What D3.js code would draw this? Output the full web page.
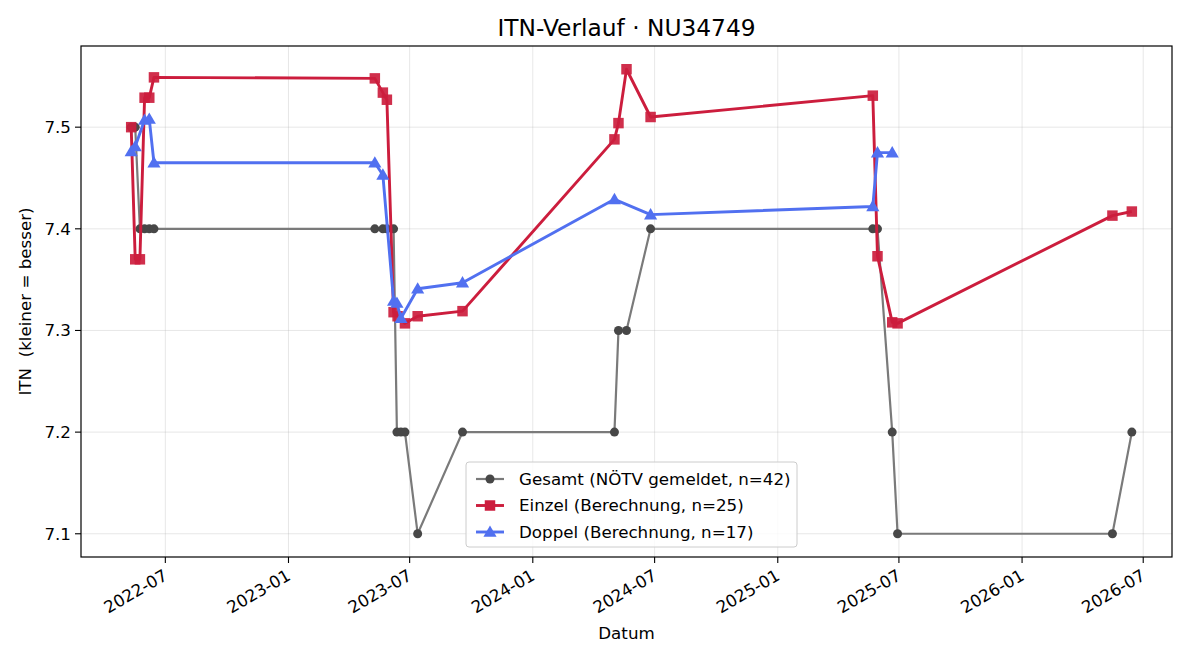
<!DOCTYPE html>
<html>
<head>
<meta charset="utf-8">
<script src="https://cdn.jsdelivr.net/npm/d3@7"></script>
<style>
  body { margin: 0; background: #fff; }
  svg { font-family: "DejaVu Sans", sans-serif; }
</style>
</head>
<body>
<div id="chart"></div>
<script>
// values
const gesamtDates = ["2022-05-11","2022-05-17","2022-05-24","2022-05-31","2022-06-07","2022-06-14",
  "2023-05-10","2023-05-22","2023-05-28","2023-06-07","2023-06-12","2023-06-18","2023-06-24","2023-07-13","2023-09-18",
  "2024-05-02","2024-05-08","2024-05-20","2024-06-25",
  "2025-05-23","2025-05-30","2025-06-21","2025-06-29",
  "2026-05-16","2026-06-14"];
const gesamtValues = [7.5,7.5,7.4,7.4,7.4,7.4,
  7.4,7.4,7.4,7.4,7.2,7.2,7.2,7.1,7.2,
  7.2,7.3,7.3,7.4,
  7.4,7.4,7.2,7.1,
  7.1,7.2];

const einzelDates = ["2022-05-11","2022-05-17","2022-05-24","2022-05-31","2022-06-07","2022-06-14",
  "2023-05-10","2023-05-22","2023-05-28","2023-06-07","2023-06-13","2023-06-24","2023-07-13","2023-09-18",
  "2024-05-02","2024-05-08","2024-05-20","2024-06-25",
  "2025-05-23","2025-05-30","2025-06-21","2025-06-29",
  "2026-05-16","2026-06-14"];
const einzelValues = [7.500,7.370,7.370,7.529,7.529,7.549,
  7.548,7.534,7.527,7.318,7.314,7.307,7.314,7.319,
  7.488,7.504,7.557,7.510,
  7.531,7.373,7.308,7.307,
  7.413,7.417];

const doppelDates = ["2022-05-11","2022-05-17","2022-05-31","2022-06-07","2022-06-14",
  "2023-05-10","2023-05-22","2023-06-07","2023-06-12","2023-06-18","2023-07-13","2023-09-18",
  "2024-05-02","2024-06-25",
  "2025-05-23","2025-05-30","2025-06-21"];
const doppelValues = [7.476,7.481,7.507,7.508,7.465,
  7.465,7.453,7.329,7.327,7.312,7.341,7.347,
  7.429,7.414,
  7.422,7.475,7.475];

const legendLabels = ["Gesamt (NÖTV gemeldet, n=42)", "Einzel (Berechnung, n=25)", "Doppel (Berechnung, n=17)"];
const yTicks = [7.1, 7.2, 7.3, 7.4, 7.5];

const parse = d3.timeParse("%Y-%m-%d");
const zip = (ds, vs) => ds.map((d, i) => ({ date: parse(d), value: vs[i] }));
const gesamt = zip(gesamtDates, gesamtValues);
const einzel = zip(einzelDates, einzelValues);
const doppel = zip(doppelDates, doppelValues);

const W = 1200, H = 660;
const m = { left: 81, right: 28, top: 46, bottom: 103 };
const fs = 16.7;

const svg = d3.select("#chart").append("svg").attr("width", W).attr("height", H);

const x = d3.scaleTime()
  .domain([parse("2022-02-25"), parse("2026-08-13")])
  .range([m.left, W - m.right]);

const allVals = gesamtValues.concat(einzelValues, doppelValues);
const [ymin, ymax] = d3.extent(allVals);
const pad = (ymax - ymin) * 0.05;
const y = d3.scaleLinear().domain([ymin - pad, ymax + pad]).range([H - m.bottom, m.top]);

const xTicks = d3.timeMonth.every(6).range(parse("2022-07-01"), parse("2026-07-02"));

// grid
const grid = svg.append("g").attr("stroke", "#b0b0b0").attr("stroke-opacity", 0.3).attr("stroke-width", 1);
grid.selectAll(".gx").data(xTicks).join("line")
  .attr("x1", d => x(d)).attr("x2", d => x(d)).attr("y1", m.top).attr("y2", H - m.bottom);
grid.selectAll(".gy").data(yTicks).join("line")
  .attr("y1", d => y(d)).attr("y2", d => y(d)).attr("x1", m.left).attr("x2", W - m.right);

const line = d3.line().x(d => x(d.date)).y(d => y(d.value));

// Gesamt
svg.append("path").datum(gesamt).attr("d", line)
  .attr("fill", "none").attr("stroke", "#7a7a7a").attr("stroke-width", 2.2);
svg.append("g").selectAll("circle").data(gesamt).join("circle")
  .attr("cx", d => x(d.date)).attr("cy", d => y(d.value)).attr("r", 4.5)
  .attr("fill", "#474747");

// Einzel
const red = "#cc1d3d";
svg.append("path").datum(einzel).attr("d", line)
  .attr("fill", "none").attr("stroke", red).attr("stroke-width", 2.9).attr("stroke-linejoin", "round");
const sq = d3.symbol().type(d3.symbolSquare).size(110);
svg.append("g").selectAll("path").data(einzel).join("path")
  .attr("d", sq).attr("transform", d => `translate(${x(d.date)},${y(d.value)})`)
  .attr("fill", red).attr("fill-opacity", 0.92);

// Doppel
const blue = "#5170f0";
svg.append("path").datum(doppel).attr("d", line)
  .attr("fill", "none").attr("stroke", blue).attr("stroke-width", 2.9).attr("stroke-linejoin", "round");
const tri = d3.symbol().type(d3.symbolTriangle).size(75);
svg.append("g").selectAll("path").data(doppel).join("path")
  .attr("d", tri).attr("transform", d => `translate(${x(d.date)},${y(d.value) + 1})`)
  .attr("fill", blue);

// axes frame
svg.append("rect").attr("x", m.left).attr("y", m.top)
  .attr("width", W - m.left - m.right).attr("height", H - m.top - m.bottom)
  .attr("fill", "none").attr("stroke", "#000").attr("stroke-width", 1.2);

// y axis
const gy = svg.append("g");
gy.selectAll("line").data(yTicks).join("line")
  .attr("x1", m.left - 6).attr("x2", m.left).attr("y1", d => y(d)).attr("y2", d => y(d))
  .attr("stroke", "#000").attr("stroke-width", 1.1);
gy.selectAll("text").data(yTicks).join("text")
  .attr("x", m.left - 10).attr("y", d => y(d)).attr("dy", "0.35em")
  .attr("text-anchor", "end").attr("font-size", fs).attr("fill", "#000")
  .text(d => d3.format(".1f")(d));

// x axis
const gx = svg.append("g");
gx.selectAll("line").data(xTicks).join("line")
  .attr("x1", d => x(d)).attr("x2", d => x(d)).attr("y1", H - m.bottom).attr("y2", H - m.bottom + 6)
  .attr("stroke", "#000").attr("stroke-width", 1.1);
gx.selectAll("text").data(xTicks).join("text")
  .attr("transform", d => `translate(${x(d) - 3},${H - m.bottom + 11}) rotate(-30)`)
  .attr("dy", "0.75em").attr("text-anchor", "end").attr("font-size", fs).attr("fill", "#000")
  .text(d3.timeFormat("%Y-%m"));

// labels
svg.append("text").attr("x", (m.left + W - m.right) / 2).attr("y", 36)
  .attr("text-anchor", "middle").attr("font-size", 23.3).text("ITN-Verlauf · NU34749");
svg.append("text").attr("x", (m.left + W - m.right) / 2).attr("y", 639)
  .attr("text-anchor", "middle").attr("font-size", fs).text("Datum");
svg.append("text").attr("transform", `translate(31,${(m.top + H - m.bottom) / 2}) rotate(-90)`)
  .attr("text-anchor", "middle").attr("font-size", fs).attr("xml:space", "preserve")
  .text("ITN  (kleiner = besser)");

// legend
const lg = svg.append("g").attr("transform", "translate(466,462)");
lg.append("rect").attr("width", 331).attr("height", 85).attr("rx", 3)
  .attr("fill", "#fff").attr("fill-opacity", 0.8).attr("stroke", "#cccccc");
const legendStyles = [
  { color: "#7a7a7a", mark: "#474747", sym: d3.symbolCircle, size: 64, w: 2.2 },
  { color: red, mark: red, sym: d3.symbolSquare, size: 110, w: 2.9 },
  { color: blue, mark: blue, sym: d3.symbolTriangle, size: 75, w: 2.9 }
];
legendLabels.forEach((lab, i) => {
  const s = legendStyles[i];
  const row = lg.append("g").attr("transform", `translate(0,${17 + i * 26.5})`);
  row.append("line").attr("x1", 10).attr("x2", 38).attr("stroke", s.color).attr("stroke-width", s.w);
  row.append("path").attr("d", d3.symbol().type(s.sym).size(s.size)())
    .attr("transform", `translate(24,${i === 2 ? 1 : 0})`).attr("fill", s.mark);
  row.append("text").attr("x", 53).attr("dy", "0.35em").attr("font-size", fs).text(lab);
});
</script>
</body>
</html>
